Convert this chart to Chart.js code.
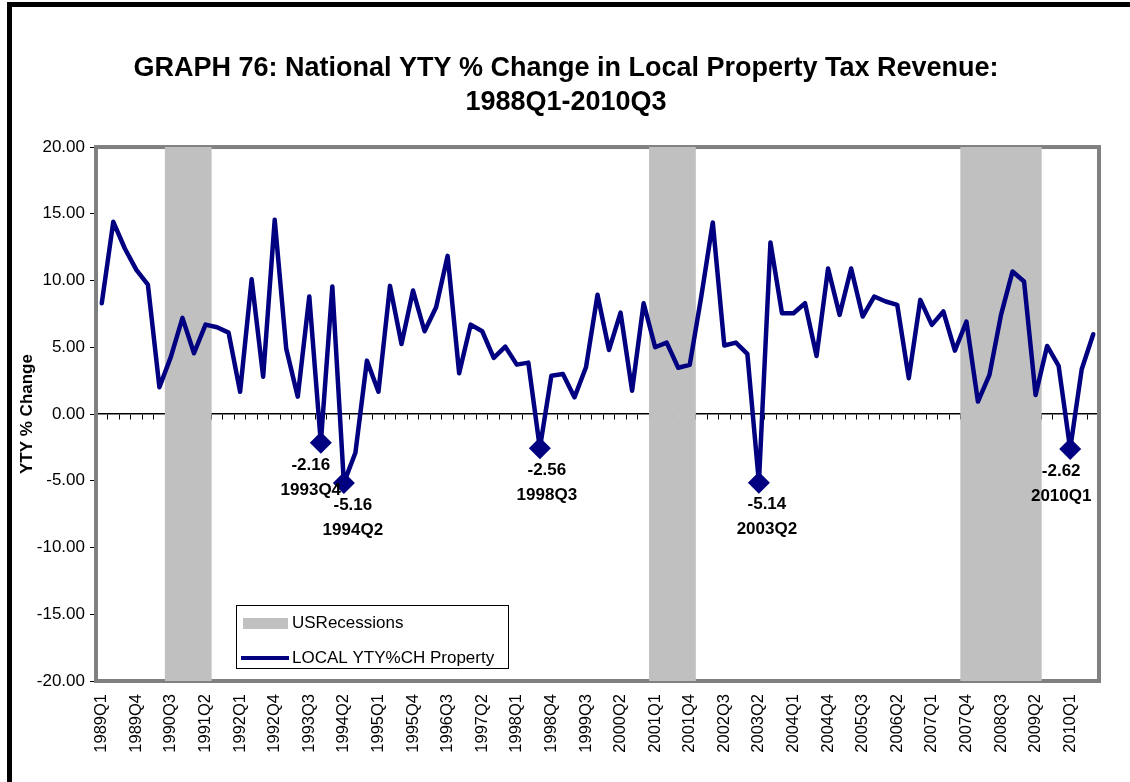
<!DOCTYPE html>
<html>
<head>
<meta charset="utf-8">
<title>Local Property Tax Revenue</title>
<script src="https://cdn.jsdelivr.net/npm/chart.js@4.4.0/dist/chart.umd.min.js"></script>
<style>
  html, body { margin: 0; padding: 0; background: #fff; }
  #wrap { width: 1130px; height: 782px; }
</style>
</head>
<body>
<div id="wrap"><canvas id="tax-chart" width="1130" height="782"></canvas></div>
<script>
const quarters = [
  '1989Q1','1989Q2','1989Q3','1989Q4', '1990Q1','1990Q2','1990Q3','1990Q4',
  '1991Q1','1991Q2','1991Q3','1991Q4', '1992Q1','1992Q2','1992Q3','1992Q4',
  '1993Q1','1993Q2','1993Q3','1993Q4', '1994Q1','1994Q2','1994Q3','1994Q4',
  '1995Q1','1995Q2','1995Q3','1995Q4', '1996Q1','1996Q2','1996Q3','1996Q4',
  '1997Q1','1997Q2','1997Q3','1997Q4', '1998Q1','1998Q2','1998Q3','1998Q4',
  '1999Q1','1999Q2','1999Q3','1999Q4', '2000Q1','2000Q2','2000Q3','2000Q4',
  '2001Q1','2001Q2','2001Q3','2001Q4', '2002Q1','2002Q2','2002Q3','2002Q4',
  '2003Q1','2003Q2','2003Q3','2003Q4', '2004Q1','2004Q2','2004Q3','2004Q4',
  '2005Q1','2005Q2','2005Q3','2005Q4', '2006Q1','2006Q2','2006Q3','2006Q4',
  '2007Q1','2007Q2','2007Q3','2007Q4', '2008Q1','2008Q2','2008Q3','2008Q4',
  '2009Q1','2009Q2','2009Q3','2009Q4', '2010Q1','2010Q2','2010Q3'
];

// year-to-year % change, local property tax
const yoyChange = [
  8.30, 14.40, 12.40, 10.80,   9.70, 2.00, 4.30, 7.20,
  4.55, 6.70, 6.50, 6.10,      1.67, 10.10, 2.80, 14.55,
  4.90, 1.30, 8.80, -2.16,     9.55, -5.16, -2.90, 4.00,
  1.67, 9.60, 5.25, 9.25,      6.20, 8.00, 11.85, 3.05,
  6.70, 6.20, 4.20, 5.05,      3.70, 3.85, -2.56, 2.87,
  3.00, 1.25, 3.50, 8.93,      4.80, 7.60, 1.75, 8.30,
  5.00, 5.35, 3.47, 3.68,      8.80, 14.35, 5.13, 5.35,
  4.50, -5.14, 12.85, 7.55,    7.55, 8.30, 4.35, 10.90,
  7.43, 10.90, 7.30, 8.80,     8.43, 8.18, 2.68, 8.55,
  6.68, 7.68, 4.75, 6.93,      0.93, 2.93, 7.43, 10.68,
  9.93, 1.43, 5.10, 3.60,      -2.62, 3.35, 5.98
];

const recessionQuarters = [
  '1990Q3','1990Q4','1991Q1','1991Q2',
  '2001Q1','2001Q2','2001Q3','2001Q4',
  '2007Q4','2008Q1','2008Q2','2008Q3','2008Q4','2009Q1','2009Q2'
];

// troughs that get a marker and a value/quarter label
const calloutQuarters = ['1993Q4', '1994Q2', '1998Q3', '2003Q2', '2010Q1'];

const yMin = -20;
const yMax = 20;
const yStep = 5;

const recessionBars = quarters.map(q => recessionQuarters.includes(q) ? [yMin, yMax] : null);

const FONT = '"Liberation Sans", Arial, sans-serif';
Chart.defaults.font.family = FONT;
Chart.defaults.color = '#000';

// white page with the black frame on the left and top
const framePlugin = {
  id: 'frame',
  beforeDraw(chart) {
    const ctx = chart.ctx;
    ctx.save();
    ctx.fillStyle = '#fff';
    ctx.fillRect(0, 0, chart.width, chart.height);
    ctx.fillStyle = '#000';
    ctx.fillRect(7, 2, 5, chart.height);
    ctx.fillRect(7, 2, chart.width, 5);
    ctx.restore();
  }
};

// grey box round the plot area
const plotBoxPlugin = {
  id: 'plotBox',
  beforeDatasetsDraw(chart) {
    const { ctx, chartArea: a } = chart;
    ctx.save();
    ctx.strokeStyle = '#808080';
    ctx.lineWidth = 4;
    ctx.strokeRect(a.left, a.top, a.right - a.left, a.bottom - a.top);
    ctx.restore();
  }
};

// value and quarter under each marked trough
const calloutPlugin = {
  id: 'callouts',
  afterDatasetsDraw(chart, args, opts) {
    const meta = chart.getDatasetMeta(0);
    const ctx = chart.ctx;
    ctx.save();
    ctx.font = 'bold 17px ' + FONT;
    ctx.fillStyle = '#000';
    ctx.textAlign = 'center';
    ctx.textBaseline = 'middle';
    calloutQuarters.forEach((q, k) => {
      const i = quarters.indexOf(q);
      const pt = meta.data[i];
      const x = pt.x + opts.shift[k];
      ctx.fillText(yoyChange[i].toFixed(2), x, pt.y + 22);
      ctx.fillText(q, x, pt.y + 47);
    });
    ctx.restore();
  }
};

// boxed legend sitting inside the plot, lower left
const boxLegendPlugin = {
  id: 'boxLegend',
  afterDraw(chart) {
    const { ctx, chartArea: a } = chart;
    const line = chart.data.datasets[0];
    const bars = chart.data.datasets[1];
    const x = a.left + 140, y = a.bottom - 76, w = 272, h = 63;
    ctx.save();
    ctx.fillStyle = '#fff';
    ctx.fillRect(x, y, w, h);
    ctx.strokeStyle = '#000';
    ctx.lineWidth = 1;
    ctx.strokeRect(x + 0.5, y + 0.5, w, h);

    ctx.fillStyle = bars.backgroundColor;
    ctx.fillRect(x + 7, y + 13, 45, 11);
    ctx.strokeStyle = line.borderColor;
    ctx.lineWidth = 4;
    ctx.beginPath();
    ctx.moveTo(x + 5, y + 53);
    ctx.lineTo(x + 53, y + 53);
    ctx.stroke();

    ctx.fillStyle = '#000';
    ctx.font = '17px ' + FONT;
    ctx.textBaseline = 'middle';
    ctx.fillText(bars.label, x + 56, y + 18);
    ctx.fillText(line.label, x + 56, y + 53);
    ctx.restore();
  }
};

new Chart(document.getElementById('tax-chart'), {
  type: 'line',
  data: {
    labels: quarters,
    datasets: [
      {
        type: 'line',
        label: 'LOCAL YTY%CH Property',
        data: yoyChange,
        xAxisID: 'x',
        yAxisID: 'y',
        borderColor: '#000080',
        borderWidth: 4.5,
        borderJoinStyle: 'round',
        borderCapStyle: 'round',
        tension: 0,
        fill: false,
        pointStyle: 'rectRot',
        pointRadius: c => calloutQuarters.includes(quarters[c.dataIndex]) ? 11 : 0,
        pointHoverRadius: c => calloutQuarters.includes(quarters[c.dataIndex]) ? 11 : 0,
        pointBackgroundColor: '#000080',
        pointBorderColor: '#000080',
        pointBorderWidth: 0,
        order: 1
      },
      {
        type: 'bar',
        label: 'USRecessions',
        data: recessionBars,
        xAxisID: 'x',
        yAxisID: 'y',
        backgroundColor: '#C0C0C0',
        barPercentage: 1,
        categoryPercentage: 1,
        grouped: false,
        order: 2
      }
    ]
  },
  options: {
    responsive: false,
    animation: false,
    events: [],
    layout: { padding: { left: 2, right: 0, top: 0, bottom: 0 } },
    plugins: {
      legend: { display: false },
      tooltip: { enabled: false },
      title: {
        display: true,
        text: ['GRAPH 76: National YTY % Change in Local Property Tax Revenue:', '1988Q1-2010Q3'],
        color: '#000',
        font: { size: 27, weight: 'bold', lineHeight: 1.26 },
        padding: { top: 52, bottom: 27 }
      },
      callouts: { shift: [-10, 9, 7, 8, -9] }
    },
    scales: {
      x: {
        type: 'category',
        offset: true,
        grid: { display: false, drawTicks: false },
        border: { display: false },
        ticks: {
          autoSkip: false,
          minRotation: 90,
          maxRotation: 90,
          padding: 13,
          color: '#000',
          font: { size: 16.5 },
          callback: (v, i) => i % 3 === 0 ? quarters[i] : null
        },
        afterFit(s) { s.height = 101; }
      },
      x0: {
        type: 'category',
        position: { y: 0 },
        offset: true,
        z: 1,
        grid: { drawOnChartArea: false, offset: true, tickLength: 5, color: '#000', lineWidth: 1 },
        border: { color: '#000', width: 1.5 },
        ticks: { display: false, autoSkip: false }
      },
      y: {
        min: yMin,
        max: yMax,
        ticks: {
          stepSize: yStep,
          padding: 5,
          color: '#000',
          font: { size: 17 },
          callback: v => v.toFixed(2)
        },
        grid: { drawOnChartArea: false, tickLength: 6, color: '#000', lineWidth: 1 },
        border: { display: false },
        title: {
          display: true,
          text: 'YTY % Change',
          color: '#000',
          font: { size: 17, weight: 'bold' },
          padding: { top: 15, bottom: 0 }
        },
        afterFit(s) { s.width = 94; }
      },
      // empty strip on the right that keeps the plot clear of the page edge
      yRight: {
        type: 'linear',
        position: 'right',
        display: true,
        min: yMin,
        max: yMax,
        grid: { display: false, drawTicks: false },
        border: { display: false },
        ticks: { display: false },
        afterFit(s) { s.width = 31; }
      }
    }
  },
  plugins: [framePlugin, plotBoxPlugin, calloutPlugin, boxLegendPlugin]
});
</script>
</body>
</html>
